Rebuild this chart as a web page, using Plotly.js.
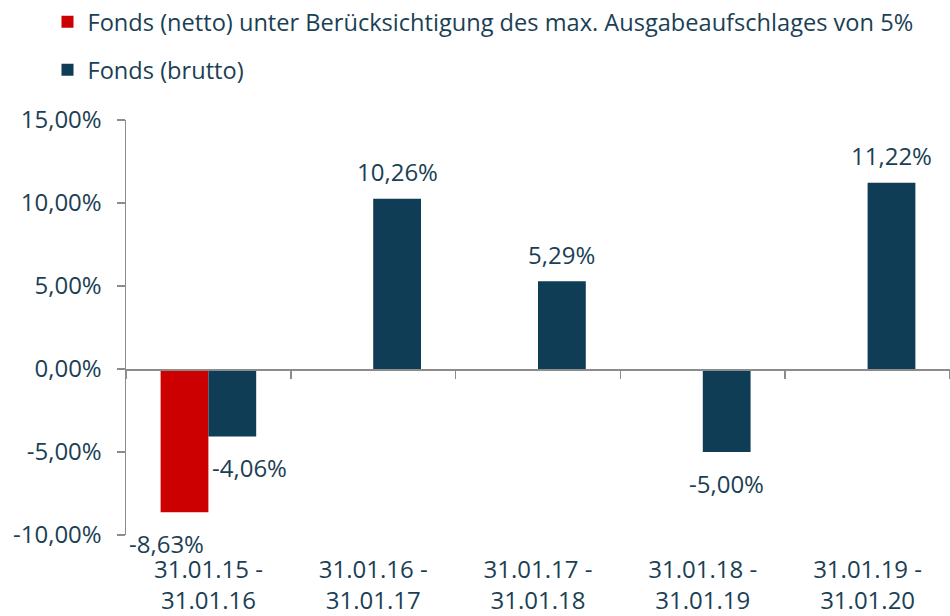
<!DOCTYPE html>
<html>
<head>
<meta charset="utf-8">
<script src="https://cdn.plot.ly/plotly-3.0.1.min.js"></script>
<style>html,body{margin:0;padding:0;background:#fff;}#chart{width:950px;height:616px;}</style>
</head>
<body>
<div id="chart"></div>
<script>
var categories = ["31.01.15 -<br>31.01.16", "31.01.16 -<br>31.01.17", "31.01.17 -<br>31.01.18", "31.01.18 -<br>31.01.19", "31.01.19 -<br>31.01.20"];
var nettoValues = [-8.63, null, null, null, null];
var bruttoValues = [-4.06, 10.26, 5.29, -5.00, 11.22];
var seriesNames = ["Fonds (netto) unter Berücksichtigung des max. Ausgabeaufschlages von 5%", "Fonds (brutto)"];
var yTickValues = [-10, -5, 0, 5, 10, 15];

var RED = "#cc0000", NAVY = "#0f3d55", TXT = "#1b3f55", AXIS = "#8c8c8c";
var FONT = "Open Sans, sans-serif";
var FS = 24;

function fmt(v) { return v.toFixed(2).replace(".", ",") + "%"; }

var marginL = 126, marginR = 0, W = 950;
var bargap = 0.42;
var catPx = (W - marginL - marginR) / categories.length;
var barPx = catPx * (1 - bargap) / 2;

var traces = [
  {type: "bar", name: seriesNames[0], x: categories, y: nettoValues, marker: {color: RED}, legend: "legend", hoverinfo: "skip"},
  {type: "bar", name: seriesNames[1], x: categories, y: bruttoValues, marker: {color: NAVY}, legend: "legend2", hoverinfo: "skip"}
];

var annotations = [];
var series = [[nettoValues, -1, nettoValues.concat()], [bruttoValues, 1]];
[[nettoValues, bruttoValues, -1], [bruttoValues, nettoValues, 1]].forEach(function (s) {
  var vals = s[0], other = s[1], side = s[2];
  vals.forEach(function (v, i) {
    if (v === null) return;
    var shared = other[i] !== null;
    annotations.push({
      x: categories[i], y: v, xref: "x", yref: "y",
      text: fmt(v), showarrow: false,
      xanchor: shared ? (side < 0 ? "right" : "left") : "center",
      xshift: shared ? side * 2 : side * barPx / 2,
      yshift: v >= 0 ? 27 : -31,
      font: {family: FONT, size: FS, color: TXT}
    });
  });
});

var legendBase = {orientation: "v", xref: "container", x: 0.05, xanchor: "left", yref: "container", yanchor: "top",
                  font: {family: FONT, size: 23.6, color: TXT}, itemwidth: 30, bgcolor: "rgba(0,0,0,0)"};

var layout = {
  width: 950, height: 616,
  margin: {l: marginL, r: marginR, t: 120, b: 81, autoexpand: false},
  paper_bgcolor: "#fff", plot_bgcolor: "#fff",
  barmode: "group", bargap: bargap, bargroupgap: 0,
  font: {family: FONT, size: FS, color: TXT},
  showlegend: true,
  legend: Object.assign({}, legendBase, {y: 1}),
  legend2: Object.assign({}, legendBase, {y: 1 - 48 / 616}),
  xaxis: {type: "category", showline: false, ticks: "", showgrid: false, zeroline: false,
          tickfont: {family: FONT, size: FS, color: TXT}, ticklabelstandoff: 18, fixedrange: true},
  xaxis2: {type: "category", overlaying: "x", matches: "x", anchor: "free", position: 0.4, side: "bottom",
           showline: true, linecolor: AXIS, linewidth: 1.5, ticks: "outside", tickson: "boundaries", ticklen: 8,
           tickcolor: AXIS, tickwidth: 1.5, showticklabels: false, showgrid: false, zeroline: false},
  yaxis: {range: [-10, 15], tickvals: yTickValues, ticktext: yTickValues.map(fmt),
          showline: true, linecolor: AXIS, linewidth: 1.5, ticks: "outside", ticklen: 8, tickcolor: AXIS, tickwidth: 1.5,
          showgrid: false, zeroline: false, tickfont: {family: FONT, size: FS, color: TXT}, ticklabelstandoff: 10},
  annotations: annotations
};

traces.push({type: "bar", x: categories, y: bruttoValues.map(function(){return null;}), xaxis: "x2", showlegend: false, hoverinfo: "skip"});

Plotly.newPlot("chart", traces, layout, {displayModeBar: false, staticPlot: true});
</script>
</body>
</html>
